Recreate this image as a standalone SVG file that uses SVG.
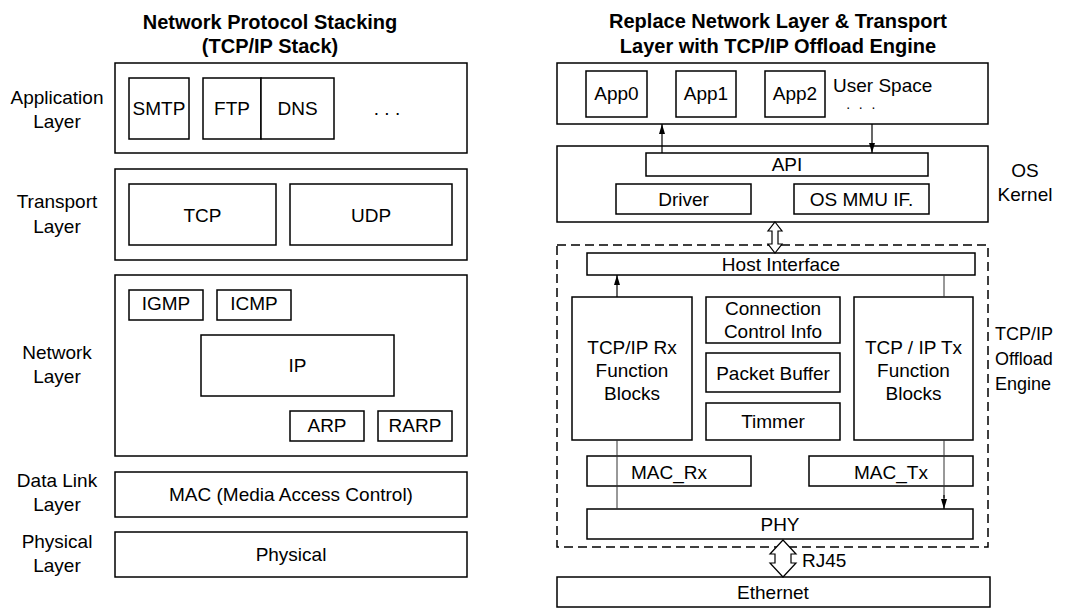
<svg xmlns="http://www.w3.org/2000/svg" width="1072" height="608" viewBox="0 0 1072 608">
<style>
  text { font-family: "Liberation Sans", Arial, sans-serif; font-size: 19px; fill: #000; }
  .t { font-weight: bold; font-size: 20px; text-anchor: middle; }
  .c { text-anchor: middle; }
  .lbl { text-anchor: middle; }
  .dots { font-size: 14px; letter-spacing: 2.4px; text-anchor: middle; }
  .box { fill: #fff; stroke: #000; stroke-width: 1.5; }
  .dash { fill: none; stroke: #000; stroke-width: 1.5; stroke-dasharray: 9 5; }
  .ln { fill: none; stroke: #333; stroke-width: 1; }
  .ar { fill: none; stroke: #000; stroke-width: 1.2; marker-end: url(#ah); }
  .hollow { fill: #fff; stroke: #000; stroke-width: 1.2; }
</style>
<defs>
  <marker id="ah" markerUnits="userSpaceOnUse" markerWidth="10" markerHeight="6" refX="10" refY="3" orient="auto">
    <path d="M0,0 L10,3 L0,6 z" fill="#000"/>
  </marker>
</defs>
<rect width="1072" height="608" fill="#fff"/>

<!-- Titles -->
<text class="t" x="270" y="29">Network Protocol Stacking</text>
<text class="t" x="270" y="53">(TCP/IP Stack)</text>
<text class="t" x="778" y="28">Replace Network Layer &amp; Transport</text>
<text class="t" x="778" y="53">Layer with TCP/IP Offload Engine</text>

<!-- Left layer labels -->
<g id="labels-left">
  <text class="lbl" x="57" y="104">Application</text>
  <text class="lbl" x="57" y="128">Layer</text>
  <text class="lbl" x="57" y="208">Transport</text>
  <text class="lbl" x="57" y="233">Layer</text>
  <text class="lbl" x="57" y="359">Network</text>
  <text class="lbl" x="57" y="383">Layer</text>
  <text class="lbl" x="57" y="487">Data Link</text>
  <text class="lbl" x="57" y="511">Layer</text>
  <text class="lbl" x="57" y="548">Physical</text>
  <text class="lbl" x="57" y="572">Layer</text>
</g>

<!-- Left stack -->
<g id="app-layer">
  <rect class="box" x="115" y="63" width="352" height="90"/>
  <text class="c" x="387" y="115">. . .</text>
</g>
<g id="smtp"><rect class="box" x="129" y="78" width="60" height="61"/><text class="c" x="159" y="115">SMTP</text></g>
<g id="ftp"><rect class="box" x="203" y="78" width="58" height="61"/><text class="c" x="232" y="115">FTP</text></g>
<g id="dns"><rect class="box" x="261" y="78" width="73" height="61"/><text class="c" x="297.5" y="115">DNS</text></g>

<g id="transport-layer"><rect class="box" x="115" y="169" width="352" height="91"/></g>
<g id="tcp"><rect class="box" x="129" y="184" width="147" height="61"/><text class="c" x="202.5" y="221.5">TCP</text></g>
<g id="udp"><rect class="box" x="290" y="184" width="162" height="61"/><text class="c" x="371" y="221.5">UDP</text></g>

<g id="network-layer"><rect class="box" x="115" y="275" width="352" height="181"/></g>
<g id="igmp"><rect class="box" x="129" y="290" width="74" height="30"/><text class="c" x="166" y="309.5">IGMP</text></g>
<g id="icmp"><rect class="box" x="217" y="290" width="74" height="30"/><text class="c" x="254" y="309.5">ICMP</text></g>
<g id="ip"><rect class="box" x="201" y="335" width="193" height="61"/><text class="c" x="297.5" y="371.5">IP</text></g>
<g id="arp"><rect class="box" x="290" y="411" width="74" height="30"/><text class="c" x="327" y="431.5">ARP</text></g>
<g id="rarp"><rect class="box" x="378" y="411" width="74" height="30"/><text class="c" x="415" y="431.5">RARP</text></g>

<g id="mac"><rect class="box" x="115" y="472" width="352" height="45"/><text class="c" x="291" y="500.5">MAC (Media Access Control)</text></g>
<g id="physical"><rect class="box" x="115" y="532" width="352" height="45"/><text class="c" x="291" y="560.5">Physical</text></g>

<!-- Right side -->
<g id="user-space">
  <rect class="box" x="557" y="63" width="431" height="61"/>
  <text x="833" y="92">User Space</text>
  <text class="dots" x="862" y="109">. . .</text>
</g>
<g id="app0"><rect class="box" x="586" y="71" width="61" height="46"/><text class="c" x="616.5" y="100">App0</text></g>
<g id="app1"><rect class="box" x="676" y="71" width="60" height="46"/><text class="c" x="706" y="100">App1</text></g>
<g id="app2"><rect class="box" x="765" y="71" width="60" height="46"/><text class="c" x="795" y="100">App2</text></g>

<g id="os-kernel">
  <rect class="box" x="557" y="146" width="431" height="76"/>
  <text class="c" x="1025" y="177">OS</text>
  <text class="c" x="1025" y="201">Kernel</text>
</g>
<g id="api"><rect class="box" x="646" y="153" width="282" height="23"/><text class="c" x="787" y="171">API</text></g>
<g id="driver"><rect class="box" x="616" y="184" width="135" height="30"/><text class="c" x="683.5" y="206">Driver</text></g>
<g id="osmmu"><rect class="box" x="794" y="184" width="135" height="30"/><text class="c" x="861.5" y="206">OS MMU IF.</text></g>

<g id="toe">
  <rect class="dash" x="557" y="245" width="431" height="302"/>
  <text x="995" y="340" style="font-size:18px">TCP/IP</text>
  <text x="995" y="365" style="font-size:18px">Offload</text>
  <text x="995" y="390" style="font-size:18px">Engine</text>
</g>
<g id="host-interface"><rect class="box" x="587" y="253" width="388" height="22"/><text class="c" x="781" y="270.5">Host Interface</text></g>
<g id="rx-blocks">
  <rect class="box" x="572" y="297" width="120" height="143"/>
  <text class="c" x="632" y="354">TCP/IP Rx</text>
  <text class="c" x="632" y="377">Function</text>
  <text class="c" x="632" y="400">Blocks</text>
</g>
<g id="conn-info">
  <rect class="box" x="706" y="297" width="134" height="46"/>
  <text class="c" x="773" y="315">Connection</text>
  <text class="c" x="773" y="338">Control Info</text>
</g>
<g id="packet-buffer"><rect class="box" x="706" y="353" width="134" height="39"/><text class="c" x="773" y="379.5">Packet Buffer</text></g>
<g id="timmer"><rect class="box" x="706" y="403" width="134" height="37"/><text class="c" x="773" y="428">Timmer</text></g>
<g id="tx-blocks">
  <rect class="box" x="854" y="297" width="119" height="143"/>
  <text class="c" x="913.5" y="354">TCP / IP Tx</text>
  <text class="c" x="913.5" y="377">Function</text>
  <text class="c" x="913.5" y="400">Blocks</text>
</g>
<g id="mac-rx"><rect class="box" x="587" y="456" width="164" height="30"/><text class="c" x="669" y="478.5">MAC_Rx</text></g>
<g id="mac-tx"><rect class="box" x="809" y="456" width="164" height="30"/><text class="c" x="891" y="478.5">MAC_Tx</text></g>
<g id="phy"><rect class="box" x="587" y="509" width="386" height="30"/><text class="c" x="780" y="530.5">PHY</text></g>
<g id="ethernet"><rect class="box" x="557" y="577" width="433" height="30"/><text class="c" x="773" y="598.5">Ethernet</text></g>

<!-- Connectors -->
<g id="connectors">
  <line class="ar" x1="662" y1="153" x2="662" y2="124"/>
  <line class="ar" x1="872" y1="124" x2="872" y2="153"/>
  <polygon class="hollow" points="775,222 782,231 778,231 778,244 782,244 775,253 768,244 772,244 772,231 768,231"/>
  <line class="ar" x1="617" y1="297" x2="617" y2="275"/>
  <line class="ln" x1="944" y1="275" x2="944" y2="297"/>
  <line class="ln" x1="617" y1="440" x2="617" y2="509"/>
  <line class="ln" x1="944" y1="440" x2="944" y2="498"/>
  <line class="ar" x1="944" y1="495" x2="944" y2="509"/>
  <polygon class="hollow" points="783,540 796,554 791,554 791,563 796,563 783,577 770,563 775,563 775,554 770,554"/>
  <text x="802" y="567">RJ45</text>
</g>
</svg>
